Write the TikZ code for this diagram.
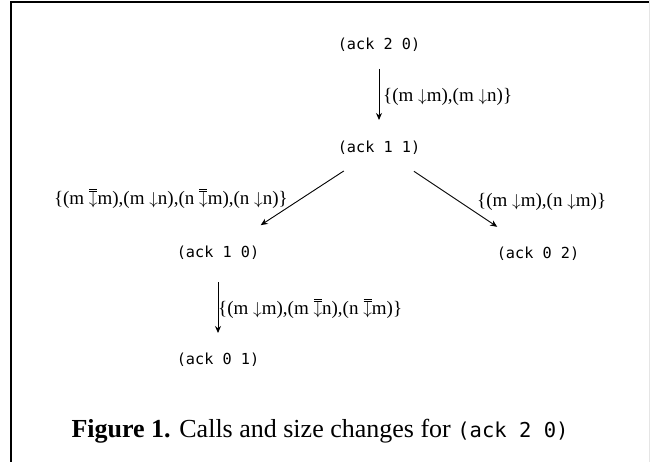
\documentclass[tikz,border=0pt]{standalone}
\usepackage{fontspec}
\setmainfont{Liberation Serif}
\newfontfamily\codefont{DejaVu Sans Mono}
\usetikzlibrary{arrows.meta}

% size-change arcs: strict decrease and non-strict decrease
\newcommand\dn{$\downarrow$}
\newcommand\dneq{\ooalign{$\downarrow$\cr
  \hidewidth\raisebox{0.64em}{\rule{0.42em}{0.05em}}\hidewidth\cr
  \hidewidth\raisebox{0.75em}{\rule{0.42em}{0.05em}}\hidewidth\cr}}

\begin{document}
\begin{tikzpicture}[x=1pt,y=-1pt,
  call/.style={inner sep=0pt, font=\codefont\fontsize{15.2}{18}\selectfont},
  sclabel/.style={inner sep=0pt, font=\fontsize{19}{22}\selectfont},
  edge/.style={-{Stealth[length=7pt,width=6pt]}, line width=0.9pt},
  frame/.style={line width=1.6pt}]
\useasboundingbox (0,0) rectangle (650,462);
\draw[frame] (11,462) -- (11,2) -- (650,2);
\draw[gray!20, line width=1pt] (649.5,0) -- (649.5,462);

% call graph
\node[call] (a20) at (379,45)  {(ack 2 0)};
\node[call] (a11) at (379,148) {(ack 1 1)};
\node[call] (a10) at (218,253) {(ack 1 0)};
\node[call] (a02) at (538,254) {(ack 0 2)};
\node[call] (a01) at (218,360) {(ack 0 1)};

\draw[edge, shorten <=24pt, shorten >=28pt] (a20.center) -- (a11.center);
\draw[edge, shorten <=42pt, shorten >=51pt] (a11.center) -- (a10.center);
\draw[edge, shorten <=42pt, shorten >=49pt] (a11.center) -- (a02.center);
\draw[edge, shorten <=29pt, shorten >=27pt] (a10.center) -- (a01.center);

% edge labels
\node[sclabel, anchor=west] (l1) at (383,97)  {\{(m \dn{}m),(m \dn{}n)\}};
\node[sclabel, anchor=east] (l2) at (288,200) {\{(m \dneq{}m),(m \dn{}n),(n \dneq{}m),(n \dn{}n)\}};
\node[sclabel, anchor=west] (l3) at (477,202) {\{(m \dn{}m),(n \dn{}m)\}};
\node[sclabel, anchor=west] (l4) at (218,310) {\{(m \dn{}m),(m \dneq{}n),(n \dneq{}m)\}};

% caption
\node[font=\fontsize{26}{30}\selectfont, inner sep=0pt] (cap) at (320,431)
  {\textbf{Figure 1.} Calls and size changes for {\codefont\fontsize{20.5}{24}\selectfont(ack 2 0)}};
\end{tikzpicture}
\end{document}
